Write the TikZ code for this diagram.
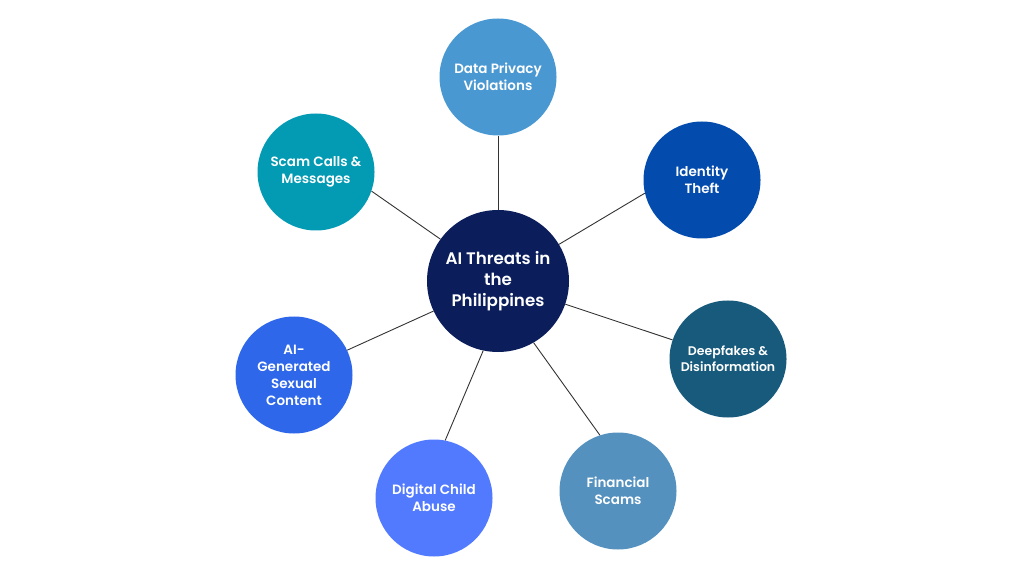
\documentclass[tikz,border=0pt]{standalone}
\usepackage{fontspec}
\setmainfont{Poppins}[UprightFont=* Medium, BoldFont=* SemiBold]
\usepackage{tikz}
\usetikzlibrary{positioning}
\usetikzlibrary{calc}
\definecolor{chub}{HTML}{0B1E5B}
\definecolor{cdata}{HTML}{4A98D2}
\definecolor{cscam}{HTML}{039AB3}
\definecolor{cident}{HTML}{034BAD}
\definecolor{cdeep}{HTML}{175A7C}
\definecolor{cfin}{HTML}{5491BF}
\definecolor{cchild}{HTML}{527AFF}
\definecolor{cgen}{HTML}{2E67E9}
\tikzstyle{hub}   = [circle, fill=chub, minimum size=142pt, inner sep=0pt, align=center, text=white, font=\bfseries\fontsize{16.7}{21}\selectfont]
\tikzstyle{topic} = [circle, minimum size=117pt, inner sep=0pt, align=center, text=white, font=\bfseries\fontsize{13.5}{17}\selectfont]
\tikzstyle{link}  = [draw=black!80, line width=0.9pt]

\begin{document}
\begin{tikzpicture}[x=1pt,y=1pt]
  \useasboundingbox (0,0) rectangle (1024,576);
  \node[hub] (hub) at (498,295) {AI Threats in\\the\\Philippines};
  \node[topic, fill=cdata]  (data)  at (498,499) {Data Privacy\\Violations};
  \node[topic, fill=cident] (ident) at (702,396) {Identity\\Theft};
  \node[topic, fill=cdeep, font=\bfseries\fontsize{12.5}{16}\selectfont] (deep) at (728,217) {Deepfakes \&\\Disinformation};
  \node[topic, fill=cfin]   (fin)   at (618,85)  {Financial\\Scams};
  \node[topic, fill=cchild] (child) at (434,78)  {Digital Child\\Abuse};
  \node[topic, fill=cgen]   (gen)   at (294,201) {AI-\\Generated\\Sexual\\Content};
  \node[topic, fill=cscam]  (scam)  at (316,404) {Scam Calls \&\\Messages};
  % spokes
  \draw[link] (hub.90)     -- (data.-90);
  \draw[link] (hub.31)     -- (ident.-167);
  \draw[link] (hub.-19)    -- (deep.161);
  \draw[link] (hub.-60.5)  -- (fin.108);
  \draw[link] (hub.-102)   -- (child.79);
  \draw[link] (hub.-155)   -- (gen.25);
  \draw[link] (hub.144)    -- (scam.-19);
\end{tikzpicture}
\end{document}
